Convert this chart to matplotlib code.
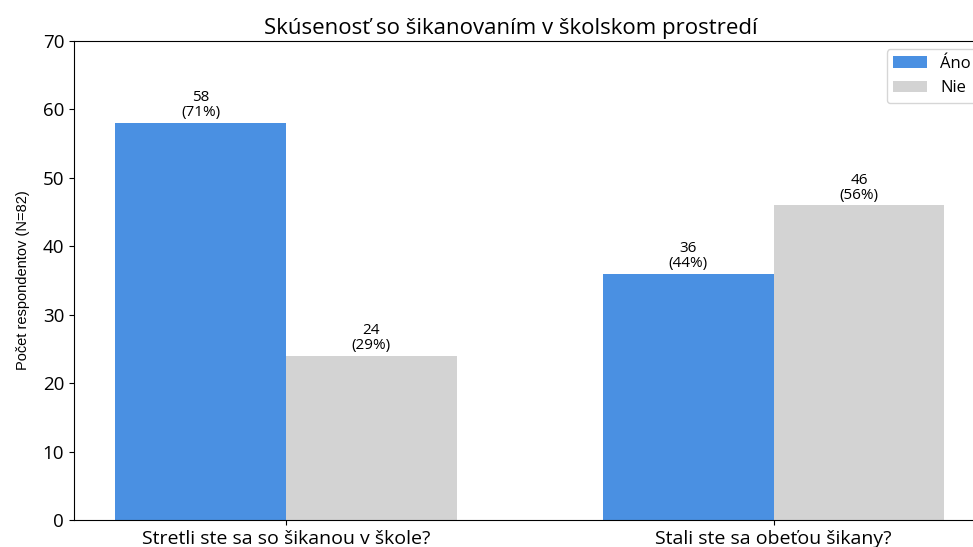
import numpy as np
import matplotlib.pyplot as plt

plt.rcParams['font.family'] = ['Open Sans', 'DejaVu Sans']

otazky = ['Stretli ste sa so šikanou v škole?', 'Stali ste sa obeťou šikany?']
ano = [58, 36]
nie = [24, 46]
ano_pct = [71, 44]
nie_pct = [29, 56]

fig = plt.figure(figsize=(9.73, 5.47), dpi=100)
ax = fig.add_axes([0.076, 0.049, 0.937, 0.876])

x = np.arange(len(otazky))
w = 0.35
b1 = ax.bar(x - w/2, ano, w, color='#4A90E2', label='Áno')
b2 = ax.bar(x + w/2, nie, w, color='#D3D3D3', label='Nie')

for bars, pcts in ((b1, ano_pct), (b2, nie_pct)):
    for b, p in zip(bars, pcts):
        ax.annotate(f'{int(b.get_height())}\n({p}%)',
                    (b.get_x() + b.get_width()/2, b.get_height()),
                    xytext=(0, 2), textcoords='offset points',
                    ha='center', va='bottom', fontsize=11, linespacing=1.0)

ax.set_ylim(0, 70)
ax.set_xticks(x)
ax.set_xticklabels(otazky, fontsize=14)
ax.tick_params(axis='y', labelsize=13.5)
ax.set_ylabel('Počet respondentov (N=82)', fontsize=10.5, labelpad=9,
              family=['Liberation Sans', 'DejaVu Sans'])
ax.set_title('Skúsenosť so šikanovaním v školskom prostredí', fontsize=16, pad=5, x=0.479)
ax.legend(loc='upper right', fontsize=12)

fig.savefig('out.png', dpi=100)
